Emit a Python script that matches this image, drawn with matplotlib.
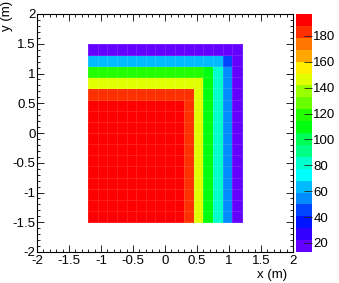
import numpy as np
import matplotlib
matplotlib.use("Agg")
import matplotlib.pyplot as plt
from matplotlib.colors import ListedColormap, BoundaryNorm
from matplotlib.ticker import MultipleLocator
import colorsys

plt.rcParams['font.family'] = ['Liberation Sans', 'DejaVu Sans']

# bin edges of the 16x16 histogram (m)
x_edges = np.linspace(-1.2, 1.2, 17)
y_edges = np.linspace(-1.5, 1.5, 17)

# bin contents, top row first, columns left -> right
z_top_down = [
    [18, 18, 18, 18, 18, 18, 18, 18, 18, 18, 18, 18, 18, 18, 18, 18],
    [64, 64, 64, 64, 64, 64, 64, 64, 64, 64, 64, 64, 64, 64, 45, 18],
    [119, 119, 119, 119, 119, 119, 119, 119, 119, 119, 119, 119, 110, 82, 54, 18],
    [146, 146, 146, 146, 146, 146, 146, 146, 146, 146, 146, 146, 110, 82, 54, 18],
    [183, 183, 183, 183, 183, 183, 183, 183, 183, 183, 183, 146, 110, 82, 54, 18],
    [195, 195, 195, 195, 195, 195, 195, 195, 195, 195, 183, 146, 110, 82, 54, 18],
    [195, 195, 195, 195, 195, 195, 195, 195, 195, 195, 183, 146, 110, 82, 54, 18],
    [195, 195, 195, 195, 195, 195, 195, 195, 195, 195, 183, 146, 110, 82, 54, 18],
    [195, 195, 195, 195, 195, 195, 195, 195, 195, 195, 183, 146, 110, 82, 54, 18],
    [195, 195, 195, 195, 195, 195, 195, 195, 195, 195, 183, 146, 110, 82, 54, 18],
    [195, 195, 195, 195, 195, 195, 195, 195, 195, 195, 183, 146, 110, 82, 54, 18],
    [195, 195, 195, 195, 195, 195, 195, 195, 195, 195, 183, 146, 110, 82, 54, 18],
    [195, 195, 195, 195, 195, 195, 195, 195, 195, 195, 183, 146, 110, 82, 54, 18],
    [195, 195, 195, 195, 195, 195, 195, 195, 195, 195, 183, 146, 110, 82, 54, 18],
    [195, 195, 195, 195, 195, 195, 195, 195, 195, 195, 183, 146, 110, 82, 54, 18],
    [195, 195, 195, 195, 195, 195, 195, 195, 195, 195, 183, 146, 110, 82, 54, 18],
]
z_min, z_max = 13, 197
cbar_ticks = [20, 40, 60, 80, 100, 120, 140, 160, 180]

# ROOT-like "pretty" palette (violet -> red), 20 contours
n_cont = 20
cols = []
for k in range(n_cont):
    idx = int((k + 0.99) * 50 / n_cont)
    if idx >= 49:
        cols.append((1, 0, 0))
    else:
        hue = 280 - (idx + 1) * 280 / 50
        cols.append(colorsys.hls_to_rgb(hue / 360, 0.5, 1))
cmap = ListedColormap(cols)
norm = BoundaryNorm(np.linspace(z_min, z_max, n_cont + 1), n_cont)

z = np.array(z_top_down)[::-1]

fs = 9.5
fig = plt.figure(figsize=(3.39, 2.83), dpi=100)
ax = fig.add_axes([37/339, 31/283, 256/339, 238/283])
mesh = ax.pcolormesh(x_edges, y_edges, z, cmap=cmap, norm=norm,
                     edgecolors=(1, 1, 1, 0.12), linewidth=0.5)
ax.set_xlim(-2, 2)
ax.set_ylim(-2, 2)

ax.xaxis.set_major_locator(MultipleLocator(0.5))
ax.yaxis.set_major_locator(MultipleLocator(0.5))
ax.xaxis.set_minor_locator(MultipleLocator(0.1))
ax.yaxis.set_minor_locator(MultipleLocator(0.1))
ax.xaxis.set_major_formatter(plt.FuncFormatter(lambda v, p: f"{v:g}"))
ax.yaxis.set_major_formatter(plt.FuncFormatter(lambda v, p: f"{v:g}"))
ax.tick_params(which='both', direction='in', top=True, right=True, labelsize=fs, width=0.6)
ax.tick_params(which='major', length=5, pad=2)
ax.tick_params(which='minor', length=2.5)
ax.tick_params(axis='y', pad=1)
for s in ax.spines.values():
    s.set_linewidth(0.8)

fig.text(287/339, 1 - 275/283, 'x (m)', fontsize=fs, ha='right', va='center')
fig.text(7/339, 1 - 1/283, 'y (m)', fontsize=fs, rotation=90, ha='center', va='top')

cax = fig.add_axes([296/339, 31/283, 16/339, 238/283])
cb = fig.colorbar(mesh, cax=cax, ticks=cbar_ticks)
cb.outline.set_visible(False)
cax.tick_params(direction='in', length=6, width=0.6, labelsize=fs, pad=1, color='#222222')
cax.minorticks_off()

fig.savefig('out.png', dpi=100)
